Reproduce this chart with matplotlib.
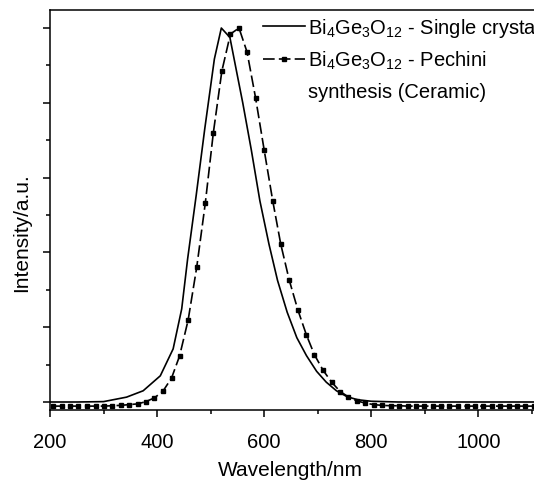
import matplotlib
matplotlib.use("Agg")
import matplotlib.pyplot as plt
from matplotlib.ticker import MultipleLocator, NullFormatter

plt.rcParams['font.family'] = ['Liberation Sans', 'DejaVu Sans']
plt.rcParams['mathtext.fontset'] = 'custom'
plt.rcParams['mathtext.rm'] = 'Liberation Sans'
plt.rcParams['mathtext.it'] = 'Liberation Sans:italic'

# single crystal emission (solid line)
crystal_wl = [200, 250, 300, 343, 374, 406, 430, 446, 457, 473, 489, 507, 520,
              536, 549, 560, 576, 592, 609, 625, 643, 661, 679, 698, 716, 735,
              755, 775, 800, 850, 900, 1000, 1120]
crystal_int = [0.0, 0.0, 0.001, 0.013, 0.030, 0.070, 0.142, 0.249, 0.382, 0.552,
               0.730, 0.917, 1.0, 0.975, 0.880, 0.800, 0.674, 0.538, 0.422, 0.325,
               0.240, 0.172, 0.124, 0.082, 0.053, 0.030, 0.014, 0.006, 0.002,
               0.0, 0.0, 0.0, 0.0]

# Pechini synthesis ceramic emission (dashed line with squares)
pechini_wl = [206, 222, 238, 253, 269, 285, 301, 316, 332, 348, 364, 379, 395,
              411, 427, 442, 458, 474, 490, 505, 521, 537, 553, 568, 584, 600,
              616, 631, 647, 663, 679, 694, 710, 726, 742, 757, 773, 789, 805,
              820, 836, 852, 868, 883, 899, 915, 931, 946, 962, 978, 994, 1009,
              1025, 1041, 1057, 1072, 1088, 1104]
pechini_int = [-0.011, -0.011, -0.011, -0.011, -0.011, -0.011, -0.011, -0.010,
               -0.009, -0.007, -0.005, 0.001, 0.011, 0.029, 0.064, 0.123, 0.219,
               0.360, 0.531, 0.719, 0.885, 0.984, 1.0, 0.936, 0.813, 0.674, 0.538,
               0.422, 0.325, 0.246, 0.179, 0.126, 0.085, 0.053, 0.028, 0.014,
               0.003, -0.003, -0.007, -0.009, -0.010, -0.010, -0.011, -0.011,
               -0.011, -0.011, -0.011, -0.011, -0.011, -0.011, -0.011, -0.011,
               -0.011, -0.011, -0.011, -0.011, -0.011, -0.011]

label_crystal = r'Bi$_4$Ge$_3$O$_{12}$ - Single crystal'
label_pechini = r'Bi$_4$Ge$_3$O$_{12}$ - Pechini'
label_pechini_2 = 'synthesis (Ceramic)'

W, H = 534, 481
fig = plt.figure(figsize=(W / 100, H / 100), dpi=100)

# axes run past the right edge of the figure, as in the cropped original
x0, x1 = 200, 1120
px_per_nm = 0.5354
ax_w = (x1 - x0) * px_per_nm
ax_h = 411 - 10.7
ax = fig.add_axes([50 / W, (H - 411) / H, ax_w / W, ax_h / H])

ax.plot(crystal_wl, crystal_int, color='black', lw=1.2, label=label_crystal)
ax.plot(pechini_wl, pechini_int, color='black', lw=1.2, dashes=(7, 2.5),
        marker='s', markersize=3.2, label=label_pechini)

ax.set_xlim(x0, x1)
ax.set_ylim(-0.0214, 1.049)

ax.xaxis.set_major_locator(MultipleLocator(200))
ax.xaxis.set_minor_locator(MultipleLocator(100))
ax.yaxis.set_major_locator(MultipleLocator(0.2))
ax.yaxis.set_minor_locator(MultipleLocator(0.1))
ax.yaxis.set_major_formatter(NullFormatter())

ax.tick_params(which='major', direction='out', length=5, width=1.1, labelsize=14.5, pad=11)
ax.tick_params(which='minor', direction='out', length=3, width=1.1)
ax.tick_params(top=False, right=False, which='both')
for side in ['left', 'bottom', 'top']:
    ax.spines[side].set_linewidth(1.1)
ax.spines['right'].set_visible(False)

ax.set_xlabel('Wavelength/nm', fontsize=15)
ax.set_ylabel('Intensity/a.u.', fontsize=15)
ax.xaxis.set_label_coords((290 - 50) / ax_w, (411 - 461) / ax_h)
ax.yaxis.set_label_coords((31 - 50) / ax_w, (411 - 233) / ax_h)

leg = ax.legend(loc='upper left', bbox_to_anchor=(263 / W, 1 - 17 / H),
                bbox_transform=fig.transFigure, frameon=False, fontsize=14.5,
                handlelength=2.1, handletextpad=0.15, borderpad=0,
                borderaxespad=0, labelspacing=0.48)

# second line of the Pechini label, lined up under the legend text
fig.canvas.draw()
bb = leg.get_texts()[1].get_window_extent()
fig.text(bb.x0 / W, 1 - 92 / H, label_pechini_2, fontsize=14.5, va='center', ha='left')

fig.savefig('out.png', dpi=100)
